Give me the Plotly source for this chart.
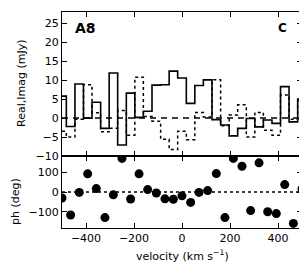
import plotly.graph_objects as go

velocity = [-500, -464, -428, -393, -357, -321, -286, -250, -214, -179, -143, -107, -71, -36,
            0, 36, 71, 107, 143, 179, 214, 250, 286, 321, 357, 393, 428, 464, 500]
real_mjy = [5.8, -2.2, 9.0, 0.0, 4.2, -2.7, 11.9, -7.1, 6.6, 0.2, 1.8, 8.7, 8.8, 12.4,
            10.6, 3.9, 8.6, 10.1, -0.4, -1.8, -4.7, -2.7, -0.1, -2.3, -0.5, -1.4, 8.3, -1.0, 5.0]
imag_mjy = [-3.5, -5.0, -0.3, 8.8, 1.4, -3.6, -2.7, 2.0, -4.5, 10.8, 0.4, -0.8, -5.6, -8.3,
            -3.5, -5.7, 1.5, 0.3, 10.1, -2.0, 0.8, 3.5, -5.0, 1.5, -3.2, -4.5, 6.1, -0.3, 4.5]
phase_deg = [-30, -115, -2, 91, 17, -128, -14, 168, -35, 91, 12, -5, -34, -36,
             -19, -52, -2, 7, 92, -128, 168, 129, -93, 146, -99, -108, 37, -157, 15]
x_ticks = [-400, -200, 0, 200, 400]
amp_ticks = [-10, -5, 0, 5, 10, 15, 20, 25]
ph_ticks = [-100, 0, 100]
x_range = [-500, 500]

FONT = "DejaVu Sans"
PAGE_OFFSET = 8  # default body margin of the html page
fig = go.Figure()

fig.add_trace(go.Scatter(x=x_range, y=[0, 0], mode="lines",
                         line=dict(color="black", width=1.5, dash="6px,5px"),
                         xaxis="x", yaxis="y2", showlegend=False))
fig.add_trace(go.Scatter(x=velocity, y=imag_mjy, mode="lines", line_shape="hvh",
                         line=dict(color="black", width=1.5, dash="dot"),
                         xaxis="x", yaxis="y2", showlegend=False))
fig.add_trace(go.Scatter(x=velocity, y=real_mjy, mode="lines", line_shape="hvh",
                         line=dict(color="black", width=1.6),
                         xaxis="x", yaxis="y2", showlegend=False))

fig.add_trace(go.Scatter(x=x_range, y=[0, 0], mode="lines",
                         line=dict(color="black", width=1.3, dash="dot"),
                         xaxis="x2", yaxis="y", showlegend=False))
fig.add_trace(go.Scatter(x=velocity, y=phase_deg, mode="markers",
                         marker=dict(color="black", size=9),
                         xaxis="x2", yaxis="y", showlegend=False, cliponaxis=True))

axis_common = dict(showline=True, linecolor="black", linewidth=1.3, mirror="allticks",
                   ticks="inside", ticklen=5, tickwidth=1, tickcolor="black",
                   showgrid=False, zeroline=False,
                   tickfont=dict(family=FONT, size=11, color="black"))

L, R, T, B = 62, 5, 12, 49
W, H = 307, 277
fig.update_layout(
    width=W - PAGE_OFFSET, height=H - PAGE_OFFSET, autosize=False,
    margin=dict(l=L - PAGE_OFFSET, r=R, t=T - PAGE_OFFSET, b=B),
    paper_bgcolor="white", plot_bgcolor="white",
    xaxis=dict(domain=[0, 1], range=x_range, tickvals=x_ticks, showticklabels=False,
               anchor="y2", **axis_common),
    xaxis2=dict(domain=[0, 1], range=x_range, tickvals=x_ticks,
                ticktext=[str(t).replace("-", "\u2212") for t in x_ticks],
                anchor="y", **axis_common),
    yaxis2=dict(domain=[0.3333, 1], range=[-10, 28], tickvals=amp_ticks,
                ticktext=[str(t).replace("-", "\u2212") for t in amp_ticks],
                anchor="x", **axis_common),
    yaxis=dict(domain=[0, 0.3333], range=[-180, 180], tickvals=ph_ticks,
               ticktext=[str(t).replace("-", "\u2212") for t in ph_ticks],
               anchor="x2", **axis_common),
    annotations=[
        dict(text="<b>A8</b>", x=-402, y=23.9, xref="x", yref="y2", showarrow=False,
             font=dict(family=FONT, size=14, color="black")),
        dict(text="<b>C</b>", x=419, y=23.7, xref="x", yref="y2", showarrow=False,
             font=dict(family=FONT, size=12, color="black")),
        dict(text="Real,Imag (mJy)", x=22, y=84, xref="paper", yref="paper",
             showarrow=False, textangle=-90, xanchor="center", yanchor="middle",
             font=dict(family=FONT, size=11, color="black")),
        dict(text="ph (deg)", x=15, y=202, xref="paper", yref="paper",
             showarrow=False, textangle=-90, xanchor="center", yanchor="middle",
             font=dict(family=FONT, size=11, color="black")),
        dict(text="velocity (km s<sup>\u22121</sup>)", x=182, y=255, xref="paper", yref="paper",
             showarrow=False, xanchor="center", yanchor="middle",
             font=dict(family=FONT, size=11, color="black")),
    ],
)

# convert window pixel positions of free annotations into paper coordinates
plot_w = W - L - R
plot_h = H - T - B
for ann in fig.layout.annotations:
    if ann.xref == "paper":
        ann.x = (ann.x - L) / plot_w
        ann.y = 1 - (ann.y - T) / plot_h

fig.write_html("out.html")
